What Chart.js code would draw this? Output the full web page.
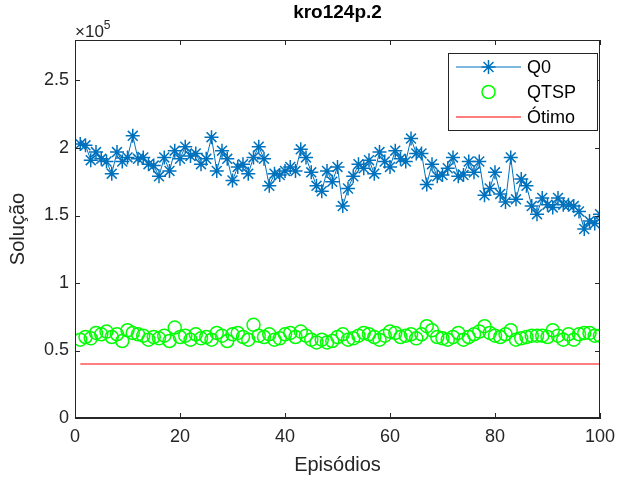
<!DOCTYPE html>
<html>
<head>
<meta charset="utf-8">
<script src="https://cdn.jsdelivr.net/npm/chart.js@4.4.1/dist/chart.umd.min.js"></script>
<style>
  html, body { margin: 0; padding: 0; background: #fff; }
  #wrap { width: 618px; height: 481px; }
</style>
</head>
<body>
<div id="wrap"><canvas id="myChart" width="618" height="481"></canvas></div>
<script>
// values in units of 10^5
var episodes = [];
for (var i = 1; i <= 100; i++) episodes.push(i);

var q0Values = [
  2.03, 2.02, 1.91, 1.97, 1.92, 1.90, 1.81, 1.97, 1.90, 1.93,
  2.09, 1.92, 1.93, 1.88, 1.87, 1.79, 1.93, 1.83, 1.98, 1.92,
  2.01, 1.94, 1.96, 1.88, 1.92, 2.08, 1.83, 1.98, 1.92, 1.76,
  1.86, 1.88, 1.81, 1.93, 2.01, 1.92, 1.72, 1.81, 1.80, 1.83,
  1.86, 1.83, 1.99, 1.93, 1.82, 1.72, 1.68, 1.83, 1.75, 1.86,
  1.57, 1.70, 1.79, 1.88, 1.85, 1.91, 1.81, 1.97, 1.90, 1.86,
  1.98, 1.92, 1.90, 2.07, 1.96, 1.96, 1.73, 1.88, 1.79, 1.80,
  1.85, 1.93, 1.79, 1.80, 1.90, 1.82, 1.90, 1.65, 1.70, 1.82,
  1.66, 1.60, 1.93, 1.62, 1.77, 1.72, 1.57, 1.51, 1.63, 1.58,
  1.56, 1.63, 1.58, 1.58, 1.57, 1.53, 1.40, 1.46, 1.44, 1.51
];

var qtspValues = [
  0.58, 0.60, 0.59, 0.63, 0.62, 0.64, 0.60, 0.62, 0.57, 0.65,
  0.63, 0.62, 0.61, 0.58, 0.60, 0.59, 0.61, 0.57, 0.67, 0.60,
  0.61, 0.58, 0.62, 0.59, 0.60, 0.58, 0.63, 0.61, 0.57, 0.62,
  0.63, 0.60, 0.58, 0.69, 0.61, 0.60, 0.62, 0.58, 0.59, 0.62,
  0.63, 0.60, 0.64, 0.61, 0.58, 0.56, 0.58, 0.56, 0.57, 0.60,
  0.62, 0.58, 0.59, 0.61, 0.63, 0.62, 0.60, 0.58, 0.61, 0.64,
  0.63, 0.60, 0.61, 0.62, 0.59, 0.62, 0.68, 0.65, 0.60, 0.59,
  0.58, 0.60, 0.63, 0.58, 0.60, 0.62, 0.64, 0.68, 0.63, 0.61,
  0.60, 0.62, 0.65, 0.58, 0.59, 0.60, 0.61, 0.61, 0.61, 0.60,
  0.65, 0.61, 0.58, 0.62, 0.58, 0.62, 0.63, 0.63, 0.61, 0.61
];

var otimoValue = 0.40;

var xTicks = [0, 20, 40, 60, 80, 100];
var yTicks = [0, 0.5, 1, 1.5, 2, 2.5];

var axisColor = "#262626";
var fontFamily = "'Liberation Sans', Arial, sans-serif";

function toPoints(vals) {
  return vals.map(function (v, i) { return { x: episodes[i], y: v }; });
}

// MATLAB-like box, inward ticks, title, exponent and legend
var matlabLook = {
  id: "matlabLook",
  afterDraw: function (chart) {
    var ctx = chart.ctx;
    var a = chart.chartArea;
    var xs = chart.scales.x, ys = chart.scales.y;
    ctx.save();
    ctx.strokeStyle = axisColor;
    ctx.lineWidth = 1;
    ctx.strokeRect(a.left + 0.5, a.top + 0.5, a.right - a.left - 1, a.bottom - a.top - 1);
    ctx.beginPath();
    xTicks.forEach(function (t) {
      var px = Math.round(xs.getPixelForValue(t)) + 0.5;
      ctx.moveTo(px, a.bottom); ctx.lineTo(px, a.bottom - 5);
      ctx.moveTo(px, a.top); ctx.lineTo(px, a.top + 5);
    });
    yTicks.forEach(function (t) {
      var py = Math.round(ys.getPixelForValue(t)) + 0.5;
      ctx.moveTo(a.left, py); ctx.lineTo(a.left + 5, py);
      ctx.moveTo(a.right, py); ctx.lineTo(a.right - 5, py);
    });
    ctx.stroke();

    // title
    ctx.fillStyle = "#000";
    ctx.font = "bold 19px " + fontFamily;
    ctx.textAlign = "center";
    ctx.textBaseline = "middle";
    ctx.fillText("kro124p.2", (a.left + a.right) / 2, 13);

    // exponent
    ctx.fillStyle = axisColor;
    ctx.textAlign = "left";
    ctx.textBaseline = "alphabetic";
    ctx.font = "17px " + fontFamily;
    ctx.fillText("\u00d710", a.left, 37);
    var w = ctx.measureText("\u00d710").width;
    ctx.font = "12px " + fontFamily;
    ctx.fillText("5", a.left + w, 29);

    // legend
    var bx = 448, by = 53, bw = 149, bh = 77;
    ctx.fillStyle = "#fff";
    ctx.fillRect(bx, by, bw, bh);
    ctx.strokeStyle = axisColor;
    ctx.lineWidth = 1;
    ctx.strokeRect(bx + 0.5, by + 0.5, bw, bh);
    var rows = [67, 92, 117];
    chart.data.datasets.forEach(function (ds, k) {
      var ry = rows[k];
      if (ds.showLine !== false) {
        ctx.strokeStyle = ds.borderColor;
        ctx.lineWidth = ds.borderWidth;
        ctx.beginPath();
        ctx.moveTo(456, ry); ctx.lineTo(521, ry);
        ctx.stroke();
      }
      if (ds.pointRadius > 0) {
        ctx.strokeStyle = ds.pointBorderColor;
        ctx.fillStyle = ds.backgroundColor;
        ctx.lineWidth = ds.pointBorderWidth;
        Chart.helpers.drawPoint(ctx, {
          pointStyle: ds.pointStyle, radius: ds.pointRadius, rotation: 0,
          borderWidth: ds.pointBorderWidth
        }, 488.5, ry);
      }
      ctx.fillStyle = "#000";
      ctx.font = "18px " + fontFamily;
      ctx.textAlign = "left";
      ctx.textBaseline = "middle";
      ctx.fillText(ds.label, 527, ry + 1);
    });
    ctx.restore();
  }
};

new Chart("myChart", {
  type: "scatter",
  data: {
    datasets: [{
      label: "Q0",
      data: toPoints(q0Values),
      showLine: true,
      borderColor: "#0072BD",
      backgroundColor: "#0072BD",
      borderWidth: 1,
      pointStyle: "star",
      pointRadius: 7,
      pointBorderColor: "#0072BD",
      pointBorderWidth: 1.5
    }, {
      label: "QTSP",
      data: toPoints(qtspValues),
      showLine: false,
      borderColor: "#00FF00",
      backgroundColor: "rgba(0,0,0,0)",
      pointStyle: "circle",
      pointRadius: 6.5,
      pointBorderColor: "#00FF00",
      pointBorderWidth: 1.5
    }, {
      label: "\u00d3timo",
      data: [{ x: episodes[0], y: otimoValue }, { x: episodes[episodes.length - 1], y: otimoValue }],
      showLine: true,
      borderColor: "#FF0000",
      backgroundColor: "#FF0000",
      borderWidth: 1.2,
      pointRadius: 0,
      pointBorderWidth: 0
    }]
  },
  plugins: [matlabLook],
  options: {
    responsive: false,
    animation: false,
    layout: { autoPadding: false, padding: { top: 40, right: 18, left: 0, bottom: 0 } },
    plugins: {
      legend: { display: false },
      title: { display: false },
      tooltip: { enabled: false }
    },
    scales: {
      x: {
        type: "linear",
        min: 0, max: 100,
        afterFit: function (s) { s.height = 63; s.paddingLeft = 0; s.paddingRight = 0; },
        afterBuildTicks: function (s) { s.ticks = xTicks.map(function (v) { return { value: v }; }); },
        grid: { display: false, drawTicks: false },
        border: { color: axisColor },
        ticks: { color: axisColor, font: { family: fontFamily, size: 18 }, padding: 8, maxRotation: 0 },
        title: { display: true, text: "Epis\u00f3dios", color: axisColor, font: { family: fontFamily, size: 20 }, padding: { top: 3 } }
      },
      y: {
        min: 0, max: 2.8,
        afterFit: function (s) { s.width = 75; s.paddingTop = 0; s.paddingBottom = 0; },
        afterBuildTicks: function (s) { s.ticks = yTicks.map(function (v) { return { value: v }; }); },
        grid: { display: false, drawTicks: false },
        border: { color: axisColor },
        ticks: {
          color: axisColor, font: { family: fontFamily, size: 18 }, padding: 6,
          callback: function (v) { return String(v); }
        },
        title: { display: true, text: "Solu\u00e7\u00e3o", color: axisColor, font: { family: fontFamily, size: 20 }, padding: { top: 6, bottom: 0 } }
      }
    }
  }
});
</script>
</body>
</html>
